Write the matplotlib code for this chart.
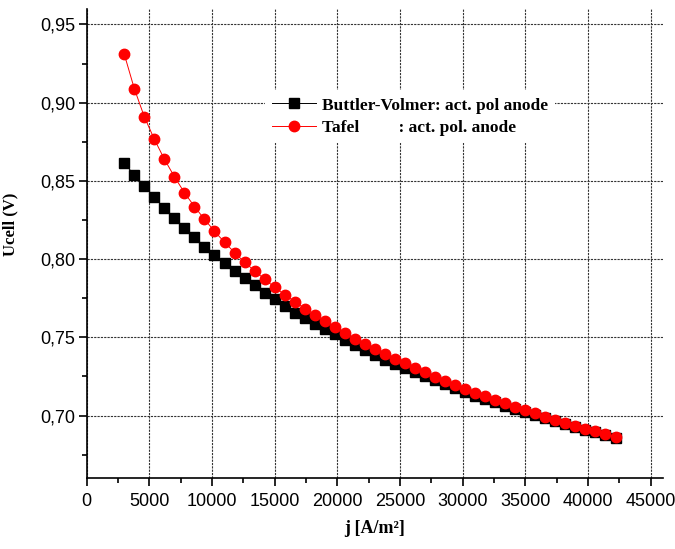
import matplotlib
matplotlib.use('Agg')
import matplotlib.pyplot as plt
from matplotlib.ticker import MultipleLocator, FuncFormatter

# current density j [A/m2]
j = [3000, 3800, 4600, 5400, 6200, 7000, 7800, 8600, 9400, 10200,
     11000, 11800, 12600, 13400, 14200, 15000, 15800, 16600, 17400, 18200,
     19000, 19800, 20600, 21400, 22200, 23000, 23800, 24600, 25400, 26200,
     27000, 27800, 28600, 29400, 30200, 31000, 31800, 32600, 33400, 34200,
     35000, 35800, 36600, 37400, 38200, 39000, 39800, 40600, 41400, 42200]

# Buttler-Volmer
u_bv = [0.8613, 0.8538, 0.8468, 0.8396, 0.8325, 0.8261, 0.8198, 0.8140, 0.8080, 0.8025,
        0.7974, 0.7925, 0.7880, 0.7835, 0.7786, 0.7744, 0.7701, 0.7658, 0.7624, 0.7588,
        0.7554, 0.7520, 0.7484, 0.7452, 0.7420, 0.7390, 0.7356, 0.7330, 0.7303, 0.7279,
        0.7252, 0.7226, 0.7201, 0.7175, 0.7153, 0.7128, 0.7107, 0.7086, 0.7062, 0.7041,
        0.7022, 0.7003, 0.6985, 0.6966, 0.6947, 0.6930, 0.6909, 0.6894, 0.6877, 0.6856]

# Tafel
u_tafel = [0.9310, 0.9090, 0.8910, 0.8766, 0.8639, 0.8527, 0.8425, 0.8336, 0.8255, 0.8178,
           0.8108, 0.8042, 0.7980, 0.7925, 0.7872, 0.7820, 0.7773, 0.7729, 0.7684, 0.7644,
           0.7605, 0.7565, 0.7527, 0.7492, 0.7460, 0.7428, 0.7394, 0.7364, 0.7334, 0.7307,
           0.7277, 0.7249, 0.7224, 0.7198, 0.7170, 0.7147, 0.7124, 0.7100, 0.7079, 0.7057,
           0.7034, 0.7015, 0.6993, 0.6974, 0.6955, 0.6936, 0.6915, 0.6900, 0.6881, 0.6862]

labels = ['Buttler-Volmer: act. pol anode', 'Tafel         : act. pol. anode']

fig = plt.figure(figsize=(6.75, 5.49), dpi=100)
ax = fig.add_axes([0.1284, 0.129, 0.854, 0.855])

ax.plot(j, u_bv, color='black', marker='s', markersize=7, linewidth=0.7,
        label=labels[0], zorder=3)
ax.plot(j, u_tafel, color='red', marker='o', markersize=7.5, linewidth=0.7,
        markeredgecolor='red', label=labels[1], zorder=4)

ax.set_xlim(0, 46000)
ax.set_ylim(0.66, 0.96)
ax.xaxis.set_major_locator(MultipleLocator(5000))
ax.xaxis.set_minor_locator(MultipleLocator(2500))
ax.yaxis.set_major_locator(MultipleLocator(0.05))
ax.yaxis.set_minor_locator(MultipleLocator(0.025))
ax.yaxis.set_major_formatter(FuncFormatter(lambda v, p: f'{v:.2f}'.replace('.', ',')))

ax.grid(which='major', color='#333333', linestyle=(0, (2, 1)), linewidth=0.8)
ax.set_axisbelow(True)

for s in ['top', 'right']:
    ax.spines[s].set_visible(False)
for s in ['left', 'bottom']:
    ax.spines[s].set_linewidth(1.2)

ax.tick_params(which='major', direction='out', length=6, width=1.2, labelsize=13,
               labelfontfamily='Liberation Sans')
ax.tick_params(axis='x', which='major', pad=5)
ax.tick_params(axis='y', which='major', pad=2)
ax.tick_params(which='minor', direction='out', length=3.5, width=1.2)

ax.set_xlabel('j [A/m²]', fontsize=13, fontweight='bold',
              family='Liberation Serif', labelpad=7)
ax.set_ylabel('Ucell (V)', fontsize=12, fontweight='bold',
              family='Liberation Serif')
ax.yaxis.set_label_coords(-0.118, 0.54)

leg = ax.legend(loc='upper left', bbox_to_anchor=(0.31, 0.826), frameon=True,
                borderaxespad=0,
                prop={'family': 'Liberation Serif', 'weight': 'bold', 'size': 12.5},
                handlelength=2.5, handletextpad=0.35, labelspacing=0.35,
                borderpad=0.4)
leg.get_frame().set_edgecolor('none')
leg.get_frame().set_facecolor('white')
leg.get_frame().set_alpha(1)

fig.savefig('out.png', dpi=100)
